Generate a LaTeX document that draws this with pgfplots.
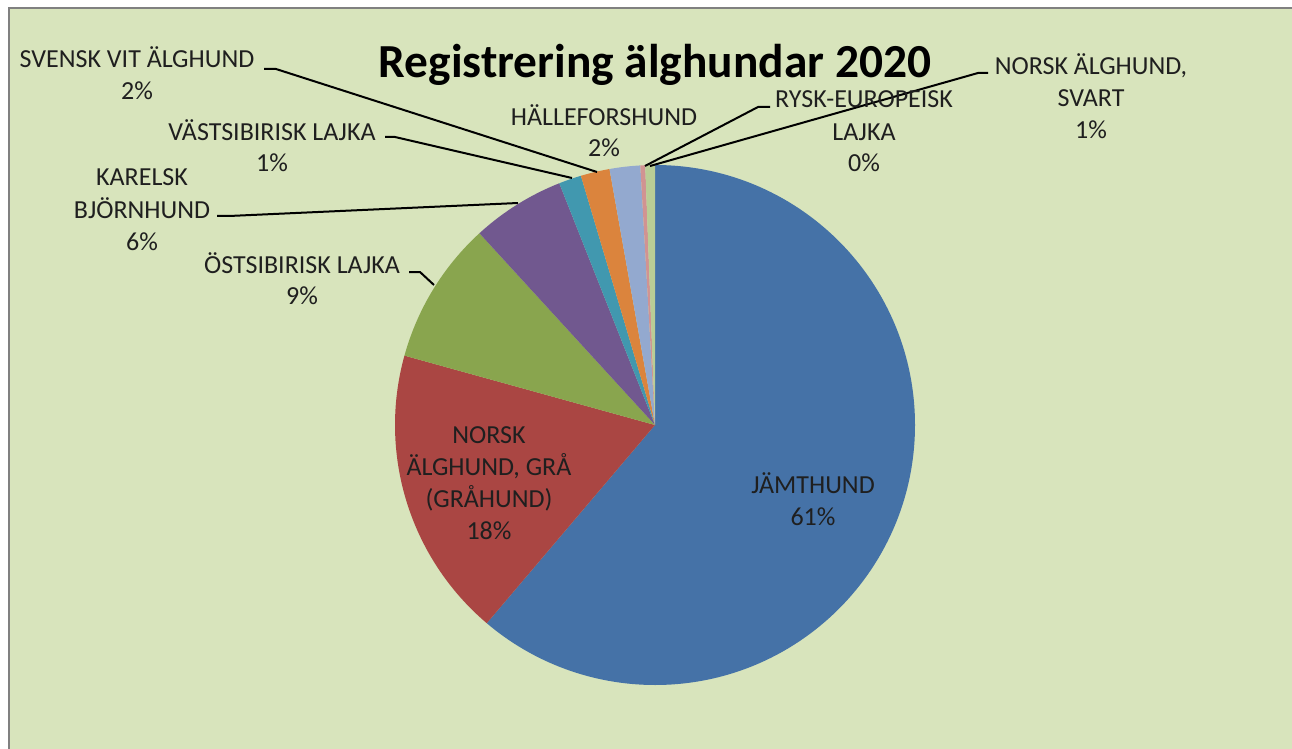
\documentclass[border=0pt]{standalone}
\usepackage{pgfplots}
\pgfplotsset{compat=1.18}
\usepackage{pgfplotstable}
\usepackage{fontspec}
\setmainfont{Carlito}
\definecolor{bgc}{HTML}{D8E4BC}
\definecolor{pie0}{HTML}{4572A7}
\definecolor{pie1}{HTML}{AA4643}
\definecolor{pie2}{HTML}{89A54E}
\definecolor{pie3}{HTML}{71588F}
\definecolor{pie4}{HTML}{4198AF}
\definecolor{pie5}{HTML}{DB843D}
\definecolor{pie6}{HTML}{93A9CF}
\definecolor{pie7}{HTML}{D19392}
\definecolor{pie8}{HTML}{B9CD96}
\pgfplotstableread{
name value
Jamthund 61.2
NorskGra 18.1
Ostsibirisk 8.9
Karelsk 5.8
Vastsibirisk 1.4
SvenskVit 1.8
Halleforshund 1.9
Rysk 0.3
NorskSvart 0.6
}\piedata
\begin{document}
\begin{tikzpicture}[
  lbl/.style={align=center, font=\fontsize{13}{16}\selectfont, text=black!88, inner sep=0pt},
  ldr/.style={black, line width=1pt}]
\begin{axis}[scale only axis, width=646pt, height=374.5pt,
  xmin=0, xmax=1292, ymin=0, ymax=749, y dir=reverse,
  axis lines=none, clip=false, anchor=south west, at={(0,0)}]
\fill[white] (axis cs:0,0) rectangle (axis cs:1292,749);
\fill[bgc] (axis cs:8.5,8.5) rectangle (axis cs:1292,749);
\draw[black!50, line width=1pt] (axis cs:8.5,749) -- (axis cs:8.5,8.5) -- (axis cs:1292,8.5);
\pgfplotstablegetrowsof{\piedata}
\pgfmathtruncatemacro\N{\pgfplotsretval-1}
\def\cum{0}
\pgfplotsforeachungrouped \i in {0,...,\N}{%
  \pgfplotstablegetelem{\i}{value}\of\piedata
  \let\v\pgfplotsretval
  \pgfmathsetmacro\a{90-\cum*3.6}%
  \pgfmathsetmacro\cum{\cum+\v}%
  \pgfmathsetmacro\b{90-\cum*3.6}%
  \edef\tmp{\noexpand\fill[pie\i] (axis cs:655,425) -- ++(\a:130pt) arc[start angle=\a, end angle=\b, radius=130pt] -- cycle;}%
  \tmp
}
% title
\node[anchor=base, font=\bfseries\fontsize{23.7}{28}\selectfont, inner sep=0pt] at (axis cs:655,77.5) {Registrering älghundar 2020};
% leader lines
\draw[ldr] (axis cs:264,69) -- (axis cs:276,69) -- (axis cs:597,172);
\draw[ldr] (axis cs:385,137) -- (axis cs:395,137) -- (axis cs:572,178);
\draw[ldr] (axis cs:217,216) -- (axis cs:229,216) -- (axis cs:518,203);
\draw[ldr] (axis cs:409,272) -- (axis cs:420,272) -- (axis cs:434,285);
\draw[ldr] (axis cs:770,107) -- (axis cs:758,107) -- (axis cs:645,166);
\draw[ldr] (axis cs:988,73) -- (axis cs:978,73) -- (axis cs:650,166);
% labels (anchor = baseline of the last line)
\node[lbl, anchor=base] at (axis cs:137,100) {SVENSK VIT ÄLGHUND\\2\%};
\node[lbl, anchor=base] at (axis cs:272,172) {VÄSTSIBIRISK LAJKA\\1\%};
\node[lbl, anchor=base] at (axis cs:142,250) {KARELSK\\BJÖRNHUND\\6\%};
\node[lbl, anchor=base] at (axis cs:302,305) {ÖSTSIBIRISK LAJKA\\9\%};
\node[lbl, anchor=base] at (axis cs:604,157) {HÄLLEFORSHUND\\2\%};
\node[lbl, anchor=base] at (axis cs:864,172) {RYSK-EUROPEISK\\LAJKA\\0\%};
\node[lbl, anchor=base] at (axis cs:1091,139) {NORSK ÄLGHUND,\\SVART\\1\%};
\node[lbl, anchor=base] at (axis cs:813,525) {JÄMTHUND\\61\%};
\node[lbl, anchor=base] at (axis cs:489,539) {NORSK\\ÄLGHUND, GRÅ\\(GRÅHUND)\\18\%};
\end{axis}
\pgfresetboundingbox
\path (0,0) rectangle (646pt,374.5pt);
\end{tikzpicture}
\end{document}
